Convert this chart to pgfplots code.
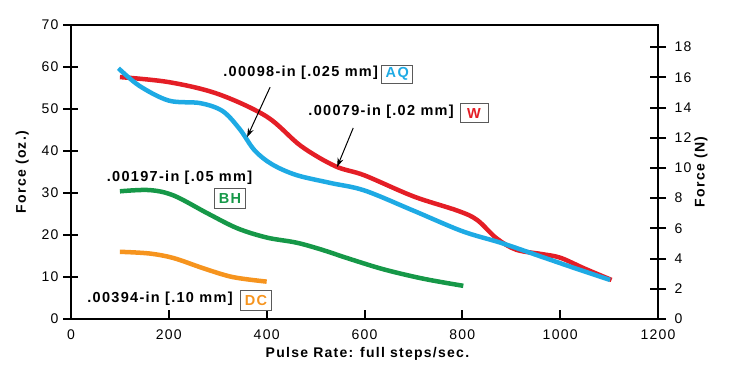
\documentclass[border=0pt]{standalone}
\usepackage{pgfplots}
\pgfplotsset{compat=1.18}
\usepackage{fontspec}
\setmainfont[LetterSpace=9]{Liberation Sans}
\usetikzlibrary{arrows.meta}
\definecolor{cred}{RGB}{228,30,38}
\definecolor{cblue}{RGB}{30,170,228}
\definecolor{cgreen}{RGB}{22,152,72}
\definecolor{corange}{RGB}{246,148,30}
\definecolor{boxgray}{RGB}{90,90,90}
\newcommand{\annfont}{\fontsize{14.5}{16}\selectfont\bfseries}
\begin{document}
\begin{tikzpicture}
\path[use as bounding box] (-71pt,-49pt) rectangle (658pt,319pt);
\pgfplotsset{
  every axis/.append style={
    scale only axis, width=587pt, height=294pt,
    xmin=0, xmax=1200,
    /pgf/number format/assume math mode=true,
    /pgf/number format/set thousands separator={},
    tick label style={font=\fontsize{14}{16}\selectfont},
    label style={font=\fontsize{14}{16}\selectfont\bfseries},
    axis line style={line width=2.4pt},
    every tick/.style={black, line width=2pt},
  }
}
% main axis: box, x ticks, data
\begin{axis}[
  ymin=0, ymax=70,
  xtick={0,200,...,1200},
  ytick={0,10,...,70},
  xtick pos=bottom, ytick pos=left,
  tick align=inside, major tick length=9pt,
  ytick style={draw=none},
  yticklabel style={xshift=-9pt},
  xticklabel style={yshift=-7pt},
  xlabel={Pulse Rate: full steps/sec.},
  xlabel style={at={(axis description cs:0.505,-0.12)}, anchor=center},
  ylabel={Force (oz.)},
  ylabel style={at={(axis description cs:-0.083,0.5)}, anchor=center},
  clip=false,
  every axis plot/.append style={line width=4.5pt, smooth, tension=0.55, no markers},
]
\addplot[cred] coordinates {
(100,57.6)(200,56.4)(300,53.6)(400,48.2)(470,41.2)(540,36.4)(600,34.2)(700,29.2)
(790,25.8)(830,23.6)(870,19.2)(910,16.5)(960,15.5)(1000,14.6)(1050,12.0)(1105,9.3)};
\addplot[cblue] coordinates {
(97,59.7)(140,55.5)(200,52.0)(264,51.4)(310,49.5)(345,45.2)(375,40.2)(410,36.9)
(460,34.3)(530,32.4)(600,30.6)(700,25.8)(800,20.9)(880,18.1)(960,14.9)(1030,12.1)(1102,9.3)};
\addplot[cgreen] coordinates {
(100,30.4)(160,30.7)(210,29.4)(280,25.1)(340,21.6)(400,19.4)(460,18.2)(510,16.6)
(570,14.3)(640,11.8)(720,9.6)(802,7.9)};
\addplot[corange] coordinates {
(100,16.0)(160,15.6)(210,14.5)(270,12.1)(330,10.0)(400,8.9)};

\node[anchor=west, inner sep=0pt, font=\annfont] at (axis cs:311,58.6) {.00098-in [.025 mm]};
\node[draw=boxgray, line width=0.8pt, text=cblue, font=\annfont, inner xsep=4pt, inner ysep=2pt, minimum height=18pt] at (axis cs:667,58.3) {AQ};
\node[anchor=west, inner sep=0pt, font=\annfont] at (axis cs:485,49.3) {.00079-in [.02 mm]};
\node[draw=boxgray, line width=0.8pt, text=cred, font=\annfont, inner xsep=7pt, inner ysep=2pt, minimum height=19pt] at (axis cs:824,49.0) {W};
\node[anchor=west, inner sep=0pt, font=\annfont] at (axis cs:73,33.6) {.00197-in [.05 mm]};
\node[draw=boxgray, line width=0.8pt, text=cgreen, font=\annfont, inner xsep=4pt, inner ysep=2pt, minimum height=20pt] at (axis cs:325,28.8) {BH};
\node[anchor=west, inner sep=0pt, font=\annfont] at (axis cs:33,4.8) {.00394-in [.10 mm]};
\node[draw=boxgray, line width=0.8pt, text=corange, font=\annfont, inner xsep=4pt, inner ysep=2pt, minimum height=20pt] at (axis cs:378,4.5) {DC};

\draw[-{Stealth[length=9pt,width=6pt]}, line width=1pt] (axis cs:407,55.2) -- (axis cs:360,43.3);
\draw[-{Stealth[length=9pt,width=6pt]}, line width=1pt] (axis cs:577,45.5) -- (axis cs:544,36.2);
\end{axis}
% left y ticks (centered)
\begin{axis}[
  ymin=0, ymax=70, ytick={0,10,...,70},
  axis x line=none, axis y line*=left,
  yticklabels={}, tick align=center, major tick length=15pt,
]
\end{axis}
% right axis in newtons
\begin{axis}[
  ymin=0, ymax=19.4613,
  ytick={0,2,...,18},
  axis x line=none, axis y line*=right,
  tick align=center, major tick length=16pt,
  yticklabel style={xshift=5pt},
  ylabel={Force (N)},
  ylabel style={at={(axis description cs:1.0733,0.5)}, anchor=center},
]
\end{axis}
\end{tikzpicture}
\end{document}
